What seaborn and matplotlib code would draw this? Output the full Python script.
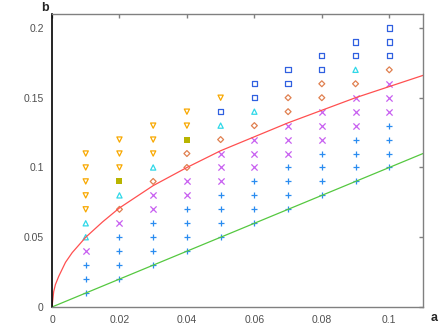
import numpy as np
import pandas as pd
import matplotlib
matplotlib.use('Agg')
import matplotlib.pyplot as plt
import seaborn as sns

# grid points (a, b) grouped by marker kind, read column by column
plus_a = [0.01]*3 + [0.02]*4 + [0.03]*4 + [0.04]*4 + [0.05]*4 + [0.06]*4 + [0.07]*4 + [0.08]*4 + [0.09]*4 + [0.10]*4
plus_b = [0.01, 0.02, 0.03,
          0.02, 0.03, 0.04, 0.05,
          0.03, 0.04, 0.05, 0.06,
          0.04, 0.05, 0.06, 0.07,
          0.05, 0.06, 0.07, 0.08,
          0.06, 0.07, 0.08, 0.09,
          0.07, 0.08, 0.09, 0.10,
          0.08, 0.09, 0.10, 0.11,
          0.09, 0.10, 0.11, 0.12,
          0.10, 0.11, 0.12, 0.13]

cross_a = [0.01, 0.02, 0.03, 0.03, 0.04, 0.04, 0.05, 0.05, 0.05, 0.06, 0.06, 0.06,
           0.07, 0.07, 0.07, 0.08, 0.08, 0.08, 0.09, 0.09, 0.09, 0.10, 0.10, 0.10]
cross_b = [0.04, 0.06, 0.07, 0.08, 0.08, 0.09, 0.09, 0.10, 0.11, 0.10, 0.11, 0.12,
           0.11, 0.12, 0.13, 0.12, 0.13, 0.14, 0.13, 0.14, 0.15, 0.14, 0.15, 0.16]

diamond_a = [0.02, 0.03, 0.04, 0.04, 0.05, 0.06, 0.07, 0.07, 0.08, 0.08, 0.09, 0.10]
diamond_b = [0.07, 0.09, 0.10, 0.11, 0.12, 0.13, 0.14, 0.15, 0.15, 0.16, 0.16, 0.17]

tri_up_a = [0.01, 0.01, 0.02, 0.03, 0.05, 0.06, 0.09]
tri_up_b = [0.05, 0.06, 0.08, 0.10, 0.13, 0.14, 0.17]

tri_down_a = [0.01]*5 + [0.02]*3 + [0.03]*3 + [0.04]*2 + [0.05]
tri_down_b = [0.07, 0.08, 0.09, 0.10, 0.11,
              0.10, 0.11, 0.12,
              0.11, 0.12, 0.13,
              0.13, 0.14,
              0.15]

square_a = [0.05, 0.06, 0.06, 0.07, 0.07, 0.08, 0.08, 0.09, 0.09, 0.10, 0.10, 0.10]
square_b = [0.14, 0.15, 0.16, 0.16, 0.17, 0.17, 0.18, 0.18, 0.19, 0.18, 0.19, 0.20]

filled_a = [0.02, 0.04]
filled_b = [0.09, 0.12]

# curves
curve_a = [0, 0.0005, 0.001, 0.002, 0.004, 0.006, 0.01, 0.015, 0.02, 0.03, 0.04,
           0.05, 0.06, 0.07, 0.08, 0.09, 0.10, 0.11]
curve_b = [0, 0.011, 0.016, 0.022, 0.032, 0.039, 0.050, 0.061, 0.071, 0.087, 0.100,
           0.112, 0.122, 0.132, 0.141, 0.150, 0.158, 0.166]
line_a = [0, 0.11]
line_b = [0, 0.11]

x_ticks = [0, 0.02, 0.04, 0.06, 0.08, 0.1]
x_labels = ['0', '0.02', '0.04', '0.06', '0.08', '0.1']
y_ticks = [0, 0.05, 0.1, 0.15, 0.2]
y_labels = ['0', '0.05', '0.1', '0.15', '0.2']

sns.set_style('white')
plt.rcParams['font.family'] = ['Liberation Sans', 'DejaVu Sans']

fig = plt.figure(figsize=(4.45, 3.34), dpi=100)
ax = fig.add_axes([52/445, 27/334, 371/445, 293/334])

sns.lineplot(x=curve_a, y=curve_b, color='#ff5050', lw=0.9, ax=ax)
sns.lineplot(x=line_a, y=line_b, color='#55c840', lw=0.9, ax=ax)

groups = [
    (plus_a, plus_b, '+', '#2a8cf0', True),
    (cross_a, cross_b, 'x', '#c860f0', True),
    (diamond_a, diamond_b, 'D', '#e08050', False),
    (tri_up_a, tri_up_b, '^', '#30d8e8', False),
    (tri_down_a, tri_down_b, 'v', '#f8a800', False),
    (square_a, square_b, 's', '#3060e0', False),
]
for a, b, m, c, line_art in groups:
    df = pd.DataFrame({'a': a, 'b': b})
    if line_art:
        sns.scatterplot(data=df, x='a', y='b', marker=m, color=c, s=20, linewidth=0.9, ax=ax)
    else:
        size = 9 if m == 'D' else 14
        sns.scatterplot(data=df, x='a', y='b', marker=m, s=size, facecolor='none',
                        edgecolor=c, linewidth=0.9, ax=ax)
sns.scatterplot(x=filled_a, y=filled_b, marker='s', color='#b8b400', s=20, linewidth=0, ax=ax)

ax.set_xlim(0, 0.11)
ax.set_ylim(0, 0.21)
ax.set_xticks(x_ticks)
ax.set_xticklabels(x_labels)
ax.set_yticks(y_ticks)
ax.set_yticklabels(y_labels)
ax.tick_params(direction='in', length=3, width=1, color='#808080', labelcolor='#505050',
               labelsize=7.5, top=True, right=True, pad=6)
ax.set_xlabel('')
ax.set_ylabel('')
for side in ['top', 'right', 'bottom']:
    ax.spines[side].set_color('#808080')
    ax.spines[side].set_linewidth(1)
ax.spines['left'].set_color('black')
ax.spines['left'].set_linewidth(1.2)

fig.text(434/445, 1 - 318/334, 'a', fontsize=9, fontweight='bold', ha='center', va='center')
fig.text(45/445, 1 - 8/334, 'b', fontsize=9, fontweight='bold', ha='center', va='center')

fig.savefig('out.png', dpi=100)
